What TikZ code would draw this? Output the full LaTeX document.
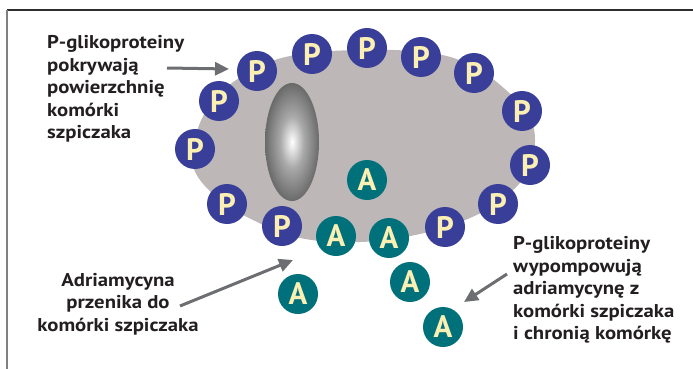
\documentclass[tikz,border=0pt]{standalone}
\usepackage{fontspec}
\setmainfont{PT Sans}
\newfontfamily\capfont{PT Sans}[FakeStretch=1.12]
\usetikzlibrary{arrows.meta}

\definecolor{pgpblue}{HTML}{393F98}
\definecolor{drugteal}{HTML}{00707A}
\definecolor{letterfill}{HTML}{FCEFB4}
\definecolor{cellgray}{HTML}{BDB8B7}
\definecolor{ink}{HTML}{231F20}
\definecolor{arrowgray}{HTML}{6D6E71}
\definecolor{nucmid}{HTML}{A9A9A9}
\definecolor{nucedge}{HTML}{6A6A6A}

% grey nucleus: bright core fading to a dark rim
\pgfdeclareradialshading{nucleusshade}{\pgfpoint{0bp}{0bp}}{%
  color(0bp)=(white); color(11bp)=(nucmid); color(25bp)=(nucedge); color(50bp)=(nucedge)}

\tikzset{
  pgp/.style={circle, fill=pgpblue, minimum size=40pt, inner sep=0pt,
    text=letterfill, font=\fontsize{31}{31}\selectfont\bfseries},
  drug/.style={pgp, fill=drugteal},
  caption/.style={inner sep=0pt, text=ink,
    font=\capfont\fontsize{18.5}{22.5}\selectfont\bfseries},
  pointer/.style={draw=arrowgray, line width=3pt,
    -{Triangle[length=14pt, width=13pt]}},
  frameline/.style={line width=1.3pt}
}

\begin{document}
\begin{tikzpicture}[x=1pt, y=-1pt]
\useasboundingbox (0,0) rectangle (693,369);

% open frame: top and left edges
\draw[frameline, draw=black!82] (7,10) -- (693,10);
\draw[frameline, draw=black!50] (7,10) -- (7,369);

% myeloma cell body
\fill[cellgray] plot[smooth cycle, tension=0.7] coordinates {
  (192,163) (198,128) (216,98) (246,74) (290,56) (360,50) (430,53)
  (472,66) (506,90) (528,115) (535,142) (527,172) (505,197)
  (470,218) (420,234) (360,242) (300,238) (255,221) (215,196)};

% nucleus
\shade[shading=nucleusshade] (292,142) ellipse [x radius=27pt, y radius=59pt];

% P-glycoproteins on the membrane
\node[pgp] (p1)  at (257,71)  {P};
\node[pgp] (p2)  at (219,101) {P};
\node[pgp] (p3)  at (195,149) {P};
\node[pgp] (p4)  at (227,204) {P};
\node[pgp] (p5)  at (282,226) {P};
\node[pgp] (p6)  at (312,54)  {P};
\node[pgp] (p7)  at (367,48)  {P};
\node[pgp] (p8)  at (421,57)  {P};
\node[pgp] (p9)  at (474,73)  {P};
\node[pgp] (p10) at (522,111) {P};
\node[pgp] (p11) at (530,165) {P};
\node[pgp] (p12) at (498,204) {P};
\node[pgp] (p13) at (445,227) {P};

% adriamycin molecules
\node[drug] (a1) at (367,180) {A};
\node[drug] (a2) at (336,236) {A};
\node[drug] (a3) at (389,238) {A};
\node[drug] (a4) at (410,282) {A};
\node[drug] (a5) at (443,327) {A};
\node[drug] (a6) at (298,294) {A};

% captions
\node[caption, align=left, anchor=west] (t1) at (47,89)
  {P-glikoproteiny\\pokrywają\\powierzchnię\\komórki\\szpiczaka};
\node[caption, align=center] (t2) at (118,304)
  {Adriamycyna\\przenika do\\komórki szpiczaka};
\node[caption, align=left, anchor=west] (t3) at (513,290)
  {P-glikoproteiny\\wypompowują\\adriamycynę z\\komórki szpiczaka\\i chronią komórkę};

% pointer arrows
\coordinate (s1) at (167,68);  \coordinate (e1) at (229,69);
\coordinate (s2) at (180,306); \coordinate (e2) at (293,260);
\coordinate (s3) at (507,274); \coordinate (e3) at (464,302);
\draw[pointer] (s1) -- (e1);
\draw[pointer] (s2) -- (e2);
\draw[pointer] (s3) -- (e3);
\end{tikzpicture}
\end{document}
